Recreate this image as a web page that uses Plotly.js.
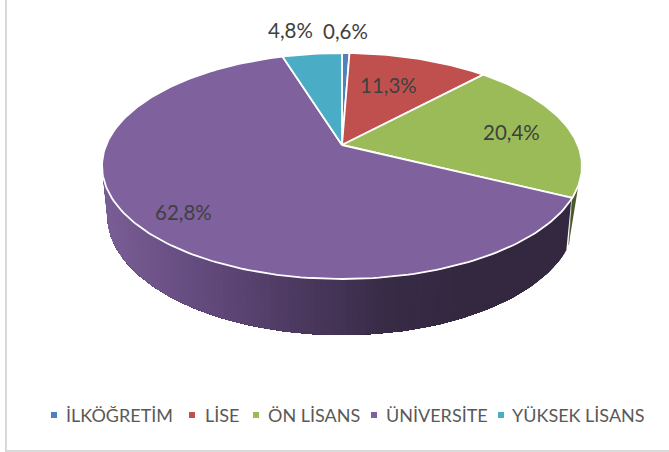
<!DOCTYPE html>
<html><head><meta charset="utf-8">
<script src="https://cdn.plot.ly/plotly-3.0.1.min.js"></script>
<style>html,body{margin:0;padding:0;background:#fff}</style></head>
<body><div id="chart" style="width:669px;height:452px"></div>
<script>
const categories = ["İLKÖĞRETİM","LİSE","ÖN LİSANS","ÜNİVERSİTE","YÜKSEK LİSANS"];
const shares = [0.6,11.3,20.4,62.8,4.8];
const colors = ["#4f81bd","#c0504d","#9bbb59","#7f619e","#4bacc6"];

const total = shares.reduce((a,b)=>a+b,0);
// projective view of a circular disc, tilted away from the viewer
const cx=342, apexY=145, A=235.8, C=109.1, K=0.1858;
const topRim=(t)=>{const u=Math.sin(t),v=Math.cos(t),d=1+K*v;return [cx+A*u/d, apexY-C*v/d];};
const lowRim=(t)=>{const u=Math.sin(t),v=Math.cos(t),d=1+K*v;return [cx+0.978*A*u/d, 193-1.06*C*v/d];};
const ang=(p)=>p/total*2*Math.PI;
const traces=[];
function poly(pts,fill,line,w){
  traces.push({type:"scatter",mode:"lines",x:pts.map(p=>p[0]),y:pts.map(p=>p[1]),fill:"toself",
    fillcolor:fill,line:{color:line,width:w},hoverinfo:"skip",showlegend:false});
}
function mix(x){
  const stops=[[102,[122,94,150]],[200,[100,75,126]],[300,[76,57,96]],[390,[56,43,70]],[470,[51,40,64]],[600,[51,40,64]]];
  for(let i=1;i<stops.length;i++){ if(x<=stops[i][0]){
    const a=stops[i-1],b=stops[i],f=Math.max(0,(x-a[0])/(b[0]-a[0]));
    const c=a[1].map((v,j)=>Math.round(v+(b[1][j]-v)*f)); return `rgb(${c.join(",")})`; } }
  return "rgb(51,40,64)";
}
const bounds=[0]; shares.forEach(s=>bounds.push(bounds[bounds.length-1]+s));
const greenEnd=ang(bounds[3]);
// green side sliver, narrowing to a tip at the slice edge
const silR=Math.PI/2+Math.asin(K)-0.02, gs=[];
for(let i=0;i<=8;i++) gs.push(silR+(greenEnd-silR)*i/8);
const tip=lowRim(greenEnd);
poly(gs.map(topRim).concat([[tip[0]+1.5,tip[1]-4]]),"#4a5a2b","#4a5a2b",0.5);
// purple front wall: overlapping layers, each running on to the far end, so no seams show
const n=110, purpleStart=greenEnd+0.012, purpleEnd=3*Math.PI/2-Math.asin(K);
for(let i=0;i<n;i++){
  const a=purpleStart+(purpleEnd-purpleStart)*i/n, ts=[], m=Math.max(2,n-i);
  for(let j=0;j<=m;j++) ts.push(a+(purpleEnd-a)*j/m);
  const c=mix(topRim(a)[0]);
  poly(ts.map(topRim).concat(ts.slice().reverse().map(lowRim)),c,c,0);
}
// top surface
shares.forEach((s,i)=>{
  const a=ang(bounds[i]), b=ang(bounds[i+1]), m=Math.max(4,Math.ceil(s*3)), pts=[[cx,apexY]];
  for(let j=0;j<=m;j++) pts.push(topRim(a+(b-a)*j/m));
  pts.push([cx,apexY]);
  poly(pts,colors[i],"#ffffff",1.8);
});
const fmt=(v)=>v.toFixed(1).replace(".",",")+"%";
const labelX=[345,388,511,183,290], labelY=[31,85,132,212,30];
const annotations=shares.map((s,i)=>({x:labelX[i],y:labelY[i],xref:"x",yref:"y",text:fmt(s),showarrow:false,
  font:{family:"Lato, Carlito, sans-serif",size:20.5,color:"#404040"},xanchor:"center",yanchor:"middle"}));
const legendMarkX=[54,192,256,374,501], legendTextX=[64,203,266,384,510], legendY=415;
categories.forEach((c,i)=>annotations.push({x:legendTextX[i],y:legendY,xref:"x",yref:"y",text:c,showarrow:false,
  font:{family:"Lato, Carlito, sans-serif",size:18,color:"#595959"},xanchor:"left",yanchor:"middle"}));
traces.push({type:"scatter",mode:"markers",x:legendMarkX,y:legendMarkX.map(()=>legendY),
  marker:{symbol:"square",size:6,color:colors},hoverinfo:"skip",showlegend:false});
Plotly.newPlot("chart",traces,{
  width:669,height:452,margin:{l:0,r:0,t:0,b:0},paper_bgcolor:"#fff",plot_bgcolor:"#fff",showlegend:false,
  xaxis:{range:[0,669],visible:false,fixedrange:true},
  yaxis:{range:[452,0],visible:false,fixedrange:true},
  annotations,
  shapes:[
    {type:"line",xref:"x",yref:"y",x0:6,x1:6,y0:0,y1:452,line:{color:"#d9d9d9",width:2}},
    {type:"line",xref:"x",yref:"y",x0:5,x1:669,y0:451,y1:451,line:{color:"#d9d9d9",width:2}}
  ]
},{staticPlot:true});
</script></body></html>
